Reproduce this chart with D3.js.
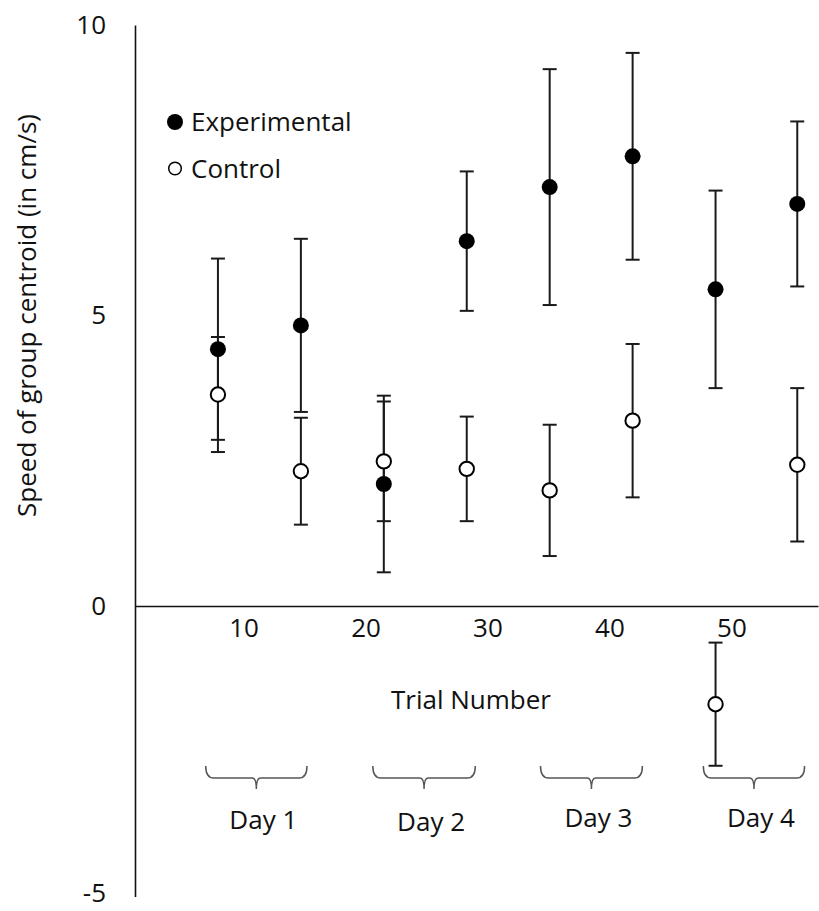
<!DOCTYPE html>
<html>
<head>
<meta charset="utf-8">
<script src="https://cdn.jsdelivr.net/npm/d3@7"></script>
<style>
  body { margin: 0; background: #fff; }
  text { font-family: "Open Sans", sans-serif; fill: #111; }
</style>
</head>
<body>
<div id="chart-area"></div>
<script>
// trial number of each point
const trials = [7.9, 14.7, 21.5, 28.3, 35.1, 41.9, 48.7, 55.4];
const experimental = [4.42, 4.83, 2.10, 6.28, 7.21, 7.74, 5.45, 6.92];
const experimentalErr = [1.56, 1.49, 1.52, 1.20, 2.03, 1.78, 1.70, 1.42];
const control = [3.64, 2.32, 2.49, 2.36, 1.99, 3.19, -1.69, 2.43];
const controlErr = [0.99, 0.92, 1.03, 0.90, 1.13, 1.32, 1.06, 1.32];

const xTicks = [10, 20, 30, 40, 50];
const yTicks = [-5, 0, 5, 10];

const days = ["Day 1", "Day 2", "Day 3", "Day 4"];
const dayStart = [6.9, 20.6, 34.35, 47.7];
const dayEnd = [15.2, 29.0, 42.7, 56.0];

const canvasWidth = 819;
const canvasHeight = 911;
const fontSize = "26px";

const svg = d3.select("#chart-area").append("svg")
  .attr("width", canvasWidth)
  .attr("height", canvasHeight);

const xScale = d3.scaleLinear().domain([1.1, 57.1]).range([135, 818]);
const yScale = d3.scaleLinear().domain([-5, 10]).range([896.5, 25]);

// axes: no tick marks, only labels
const xAxis = d3.axisBottom(xScale).tickValues(xTicks).tickSize(0).tickPadding(12).tickSizeOuter(0);
const xAxisGroup = svg.append("g")
  .attr("transform", `translate(0, ${yScale(0)})`)
  .call(xAxis);

// plain hyphen for negatives, like the original
const yAxis = d3.axisLeft(yScale).tickValues(yTicks).tickFormat(d => String(d))
  .tickSize(0).tickPadding(29).tickSizeOuter(0);
const yAxisGroup = svg.append("g")
  .attr("transform", `translate(${xScale.range()[0]}, 0)`)
  .call(yAxis);

[xAxisGroup, yAxisGroup].forEach(g => {
  g.select(".domain").attr("stroke", "#111").attr("stroke-width", 1.6);
  g.selectAll(".tick text")
    .attr("font-size", fontSize)
    .attr("fill", "#111")
    .style("font-family", "'Open Sans', sans-serif");
});
xAxisGroup.selectAll(".tick text").attr("dy", "0.72em");
// bottom label sits at the page edge, lift it a touch so it is not clipped
yAxisGroup.selectAll(".tick text").filter(d => d === -5).attr("dy", "0.2em");

svg.append("text")
  .attr("font-size", fontSize)
  .attr("text-anchor", "middle")
  .attr("transform", `translate(36, 315.5) rotate(-90)`)
  .text("Speed of group centroid (in cm/s)");

svg.append("text")
  .attr("font-size", fontSize)
  .attr("text-anchor", "middle")
  .attr("x", 471)
  .attr("y", 709)
  .text("Trial Number");

// day brackets under the axis
days.forEach((day, i) => {
  const x0 = xScale(dayStart[i]);
  const x1 = xScale(dayEnd[i]);
  const xm = (x0 + x1) / 2;
  const p = d3.path();
  p.moveTo(x0, 766);
  p.quadraticCurveTo(x0, 778, x0 + 8, 778);
  p.lineTo(xm - 4, 778);
  p.quadraticCurveTo(xm, 778, xm, 789);
  p.quadraticCurveTo(xm, 778, xm + 4, 778);
  p.lineTo(x1 - 8, 778);
  p.quadraticCurveTo(x1, 778, x1, 766);
  svg.append("path")
    .attr("d", p.toString())
    .attr("fill", "none")
    .attr("stroke", "#555")
    .attr("stroke-width", 1.5);

  svg.append("text")
    .attr("font-size", fontSize)
    .attr("text-anchor", "middle")
    .attr("x", xm + 7)
    .attr("y", [829, 831, 827, 827][i])
    .text(day);
});

// error bars
function drawErrors(values, errs) {
  const g = svg.append("g").attr("stroke", "#1a1a1a").attr("stroke-width", 2);
  values.forEach((v, i) => {
    const x = xScale(trials[i]);
    g.append("line")
      .attr("x1", x).attr("x2", x)
      .attr("y1", yScale(v + errs[i])).attr("y2", yScale(v - errs[i]));
    [v + errs[i], v - errs[i]].forEach(e => {
      g.append("line")
        .attr("x1", x - 7).attr("x2", x + 7)
        .attr("y1", yScale(e)).attr("y2", yScale(e));
    });
  });
}
drawErrors(experimental, experimentalErr);
drawErrors(control, controlErr);

svg.append("g").selectAll("circle")
  .data(experimental)
  .enter().append("circle")
  .attr("cx", (d, i) => xScale(trials[i]))
  .attr("cy", d => yScale(d))
  .attr("r", 8)
  .attr("fill", "#000");

svg.append("g").selectAll("circle")
  .data(control)
  .enter().append("circle")
  .attr("cx", (d, i) => xScale(trials[i]))
  .attr("cy", d => yScale(d))
  .attr("r", 7.2)
  .attr("fill", "#fff")
  .attr("stroke", "#000")
  .attr("stroke-width", 2);

// legend
const legend = svg.append("g").attr("transform", "translate(175, 122)");
legend.append("circle").attr("r", 8).attr("fill", "#000");
legend.append("text").attr("x", 16).attr("y", 9).attr("font-size", fontSize).text("Experimental");
legend.append("circle").attr("cy", 46.5).attr("r", 6.3).attr("fill", "#fff").attr("stroke", "#000").attr("stroke-width", 1.5);
legend.append("text").attr("x", 16).attr("y", 55.5).attr("font-size", fontSize).text("Control");
</script>
</body>
</html>
